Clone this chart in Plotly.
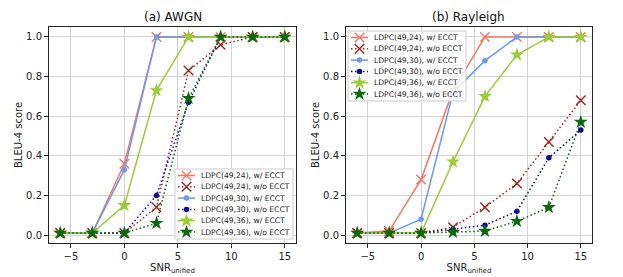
import plotly.graph_objects as go

snr = [-6, -3, 0, 3, 6, 9, 12, 15]

labels = ["LDPC(49,24), w/ ECCT", "LDPC(49,24), w/o ECCT",
          "LDPC(49,30), w/ ECCT", "LDPC(49,30), w/o ECCT",
          "LDPC(49,36), w/ ECCT", "LDPC(49,36), w/o ECCT"]

awgn_24_w = [0.01, 0.01, 0.36, 1.0, 1.0, 1.0, 1.0, 1.0]
awgn_24_wo = [0.01, 0.01, 0.01, 0.14, 0.83, 0.96, 1.0, 1.0]
awgn_30_w = [0.01, 0.01, 0.33, 1.0, 1.0, 1.0, 1.0, 1.0]
awgn_30_wo = [0.01, 0.01, 0.01, 0.20, 0.67, 1.0, 1.0, 1.0]
awgn_36_w = [0.01, 0.01, 0.15, 0.73, 1.0, 1.0, 1.0, 1.0]
awgn_36_wo = [0.01, 0.01, 0.01, 0.06, 0.69, 1.0, 1.0, 1.0]

ray_24_w = [0.01, 0.02, 0.28, 0.73, 1.0, 1.0, 1.0, 1.0]
ray_24_wo = [0.01, 0.01, 0.01, 0.04, 0.14, 0.26, 0.47, 0.68]
ray_30_w = [0.01, 0.01, 0.08, 0.72, 0.88, 1.0, 1.0, 1.0]
ray_30_wo = [0.01, 0.01, 0.01, 0.03, 0.05, 0.12, 0.39, 0.53]
ray_36_w = [0.01, 0.01, 0.01, 0.37, 0.70, 0.91, 1.0, 1.0]
ray_36_wo = [0.01, 0.01, 0.01, 0.015, 0.02, 0.07, 0.14, 0.57]

x_ticks = [-5, 0, 5, 10, 15]
y_ticks = [0.0, 0.2, 0.4, 0.6, 0.8, 1.0]

colors = ["#FA7560", "#A52020", "#6A9AEE", "#0A0A90", "#9ACD32", "#0A6A0A"]
symbols = ["x-thin", "x-thin", "circle", "circle", "star", "star"]
sizes = [9.5, 9.5, 5.5, 5.5, 10.5, 10.5]
DOT = "1.5px,2.5px"
dashes = ["solid", DOT, "solid", DOT, "solid", DOT]

W, H = 623.0, 277.0

panels = [
    ([awgn_24_w, awgn_24_wo, awgn_30_w, awgn_30_wo, awgn_36_w, awgn_36_wo], "x", "y", (175, 169)),
    ([ray_24_w, ray_24_wo, ray_30_w, ray_30_wo, ray_36_w, ray_36_wo], "x2", "y2", (348, 31)),
]


def marker_for(i):
    xsym = symbols[i] == "x-thin"
    return dict(symbol=symbols[i], size=sizes[i], color=colors[i],
                line=dict(color=colors[i], width=1.4 if xsym else 0))


fig = go.Figure()
for series, xa, ya, _ in panels:
    for i, vals in enumerate(series):
        fig.add_trace(go.Scatter(
            x=snr, y=vals, name=labels[i], xaxis=xa, yaxis=ya,
            mode="lines+markers", showlegend=False,
            line=dict(color=colors[i], width=1.5, dash=dashes[i]),
            marker=marker_for(i),
        ))

# custom compact legends drawn on a pixel-unit overlay axis
annotations = []
BOX_W, BOX_H, ROW = 118, 70, 11.3
for _, _, _, (L, T) in panels:
    fig.add_trace(go.Scatter(
        x=[L, L + BOX_W, L + BOX_W, L, L], y=[T, T, T + BOX_H, T + BOX_H, T],
        xaxis="x3", yaxis="y3", mode="lines", fill="toself",
        fillcolor="rgba(255,255,255,0.8)", line=dict(color="#cccccc", width=1),
        showlegend=False, hoverinfo="skip"))
    for i in range(6):
        yc = T + 6.5 + ROW * i
        fig.add_trace(go.Scatter(
            x=[L + 3, L + 20], y=[yc, yc], xaxis="x3", yaxis="y3", mode="lines",
            line=dict(color=colors[i], width=1.5, dash=dashes[i]),
            showlegend=False, hoverinfo="skip"))
        fig.add_trace(go.Scatter(
            x=[L + 11.5], y=[yc], xaxis="x3", yaxis="y3", mode="markers",
            marker=marker_for(i), showlegend=False, hoverinfo="skip"))
        annotations.append(dict(
            text=labels[i], x=(L + 24) / W, y=(H - yc) / H, xref="paper", yref="paper",
            xanchor="left", yanchor="middle", showarrow=False,
            font=dict(family="DejaVu Sans", size=7.6, color="#222")))

axis_common = dict(
    range=[-7.05, 16.05], tickvals=x_ticks, ticks="outside", ticklen=4,
    tickcolor="#222", showgrid=True, gridcolor="#d3d3d3", gridwidth=1,
    showline=True, linecolor="#222", linewidth=1, mirror=True, zeroline=False,
    tickfont=dict(family="DejaVu Sans", size=10, color="#222"),
    title=dict(text="SNR<sub>unified</sub>", font=dict(family="DejaVu Sans", size=10, color="#222"), standoff=2),
)
yaxis_common = dict(
    range=[-0.04, 1.05], tickvals=y_ticks, tickformat=".1f", ticks="outside", ticklen=4,
    tickcolor="#222", showgrid=True, gridcolor="#d3d3d3", gridwidth=1,
    showline=True, linecolor="#222", linewidth=1, mirror=True, zeroline=False,
    tickfont=dict(family="DejaVu Sans", size=10, color="#222"),
    title=dict(text="BLEU-4 score", font=dict(family="DejaVu Sans", size=10, color="#222"), standoff=1),
)

ybot = (H - 243) / H
ytop = (H - 27) / H

annotations += [
    dict(text="(a) AWGN", x=172.5 / W, y=(H - 17) / H, xref="paper", yref="paper",
         xanchor="center", yanchor="middle",
         showarrow=False, font=dict(family="DejaVu Sans", size=12, color="#111")),
    dict(text="(b) Rayleigh", x=469 / W, y=(H - 17) / H, xref="paper", yref="paper",
         xanchor="center", yanchor="middle",
         showarrow=False, font=dict(family="DejaVu Sans", size=12, color="#111")),
]

fig.update_layout(
    width=623, height=277,
    margin=dict(l=0, r=0, t=0, b=0, autoexpand=False),
    paper_bgcolor="white", plot_bgcolor="rgba(0,0,0,0)",
    showlegend=False, hovermode=False,
    xaxis=dict(domain=[49 / W, 296 / W], anchor="y", **axis_common),
    yaxis=dict(domain=[ybot, ytop], anchor="x", **yaxis_common),
    xaxis2=dict(domain=[346 / W, 592 / W], anchor="y2", **axis_common),
    yaxis2=dict(domain=[ybot, ytop], anchor="x2", **yaxis_common),
    xaxis3=dict(domain=[0, 1], range=[0, W], visible=False, anchor="y3", fixedrange=True),
    yaxis3=dict(domain=[0, 1], range=[H, 0], visible=False, anchor="x3", fixedrange=True),
    annotations=annotations,
)

fig.write_html("out.html", config={"displayModeBar": False, "staticPlot": True},
               post_script="document.body.style.margin='0';")
